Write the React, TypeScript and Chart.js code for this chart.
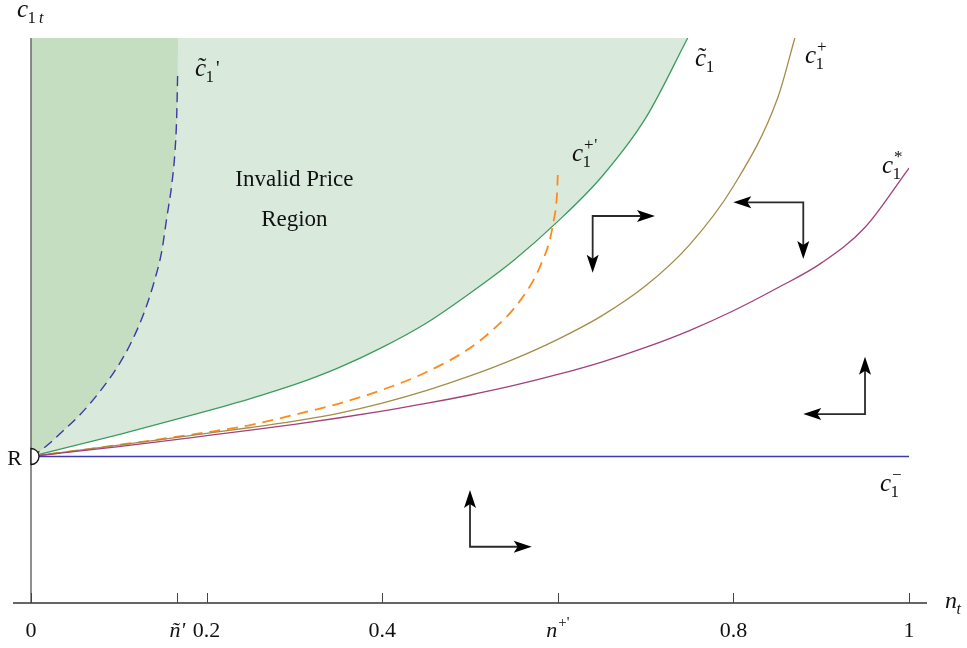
import React, { useEffect, useRef } from "react";
import { Chart, registerables } from "chart.js";

Chart.register(...registerables);

// ---------- data (n_t on x, c_1t on y; R = 1) ----------
const Y_MAX = 3.857;
const R_VALUE = 1.0;

// c~1 (boundary of invalid price region)
const cTildeX = [0, 0.1, 0.2, 0.25, 0.3, 0.35, 0.4, 0.45, 0.5, 0.55, 0.6, 0.65, 0.7, 0.748];
const cTildeY = [1.0, 1.15, 1.31, 1.395, 1.49, 1.605, 1.745, 1.91, 2.115, 2.34, 2.605, 2.91, 3.31, 3.857];

// c1+
const cPlusX = [0, 0.1, 0.2, 0.25, 0.3, 0.35, 0.4, 0.45, 0.5, 0.55, 0.6, 0.65, 0.7, 0.75, 0.8, 0.85, 0.87];
const cPlusY = [1.0, 1.078, 1.158, 1.198, 1.242, 1.295, 1.365, 1.45, 1.55, 1.665, 1.8, 1.96, 2.165, 2.445, 2.845, 3.44, 3.857];

// c1*
const cStarX = [0, 0.1, 0.2, 0.25, 0.3, 0.35, 0.4, 0.45, 0.5, 0.55, 0.6, 0.65, 0.7, 0.75, 0.8, 0.85, 0.9, 0.95, 1.0];
const cStarY = [1.0, 1.068, 1.142, 1.18, 1.22, 1.263, 1.31, 1.362, 1.42, 1.485, 1.56, 1.645, 1.745, 1.86, 1.995, 2.15, 2.32, 2.565, 2.969];

// c1+'  (dashed)
const cPlusPrimeX = [0, 0.1, 0.2, 0.25, 0.3, 0.35, 0.4, 0.45, 0.5, 0.525, 0.55, 0.57, 0.58, 0.59, 0.595, 0.599, 0.6];
const cPlusPrimeY = [1.0, 1.079, 1.165, 1.215, 1.285, 1.36, 1.455, 1.575, 1.74, 1.86, 2.01, 2.18, 2.3, 2.46, 2.6, 2.78, 2.922];

// c~1'  (dashed)
const cTildePrimeX = [0, 0.0103, 0.0216, 0.0364, 0.0558, 0.0786, 0.0976, 0.1128, 0.1279, 0.1393, 0.1489, 0.1546, 0.1603, 0.164, 0.1659, 0.1671];
const cTildePrimeY = [1.0, 1.038, 1.092, 1.174, 1.285, 1.445, 1.604, 1.763, 1.968, 2.173, 2.401, 2.628, 2.855, 3.083, 3.311, 3.629];
const cTildePrimeTop = { x: 0.1674, y: 3.857 };

// c1-
const cMinusX = [0, 1.0];
const cMinusY = [R_VALUE, R_VALUE];

// x-axis ticks
const xTickValues = [0, 0.1667, 0.2, 0.4, 0.6, 0.8, 1];
const xTickLabels = ["0", "ñ'", "0.2", "0.4", "", "0.8", "1"];
const nPlusPrimeTick = 0.6;

// phase arrows: corner point, horizontal arm, vertical arm (data units)
const arrowCornersX = [0.6397, 0.8796, 0.9499, 0.5];
const arrowCornersY = [2.642, 2.735, 1.29, 0.384];
const arrowArmsX = [0.071, -0.0797, -0.0703, 0.0703];
const arrowArmsY = [-0.387, -0.387, 0.391, 0.387];

const SERIF = "'Liberation Serif', 'Times New Roman', serif";

const pts = (xs: number[], ys: number[]) => xs.map((x, i) => ({ x, y: ys[i] }));

function drawMath(
  ctx: CanvasRenderingContext2D,
  x: number,
  y: number,
  base: string,
  o: { tilde?: boolean; sub?: string; sup?: string; prime?: boolean; supPrime?: boolean; subItalic?: boolean; size?: number }
) {
  const size = o.size || 25;
  ctx.textAlign = "left";
  ctx.textBaseline = "alphabetic";
  ctx.fillStyle = "#111";
  ctx.font = `italic ${size}px ${SERIF}`;
  ctx.fillText(base, x, y);
  const w = ctx.measureText(base).width;
  if (o.tilde) {
    ctx.font = `${size}px ${SERIF}`;
    const tw = ctx.measureText("˜").width;
    ctx.fillText("˜", x + w / 2 - tw / 2 + 1.5, y - 1);
  }
  let right = x + w;
  const ss = Math.round(size * 0.66);
  if (o.sub) {
    ctx.font = `${o.subItalic ? "italic " : ""}${ss}px ${SERIF}`;
    ctx.fillText(o.sub, x + w - 0.5, y + 6);
    right = Math.max(right, x + w - 0.5 + ctx.measureText(o.sub).width);
  }
  if (o.sup) {
    ctx.font = `${ss}px ${SERIF}`;
    ctx.fillText(o.sup, x + w + 1, y - 11);
    const sw = ctx.measureText(o.sup).width;
    if (o.supPrime) {
      ctx.fillText("'", x + w + 1 + sw + 0.5, y - 11);
    }
    right = Math.max(right, x + w + 1 + sw);
  }
  if (o.prime) {
    ctx.font = `${Math.round(size * 0.8)}px ${SERIF}`;
    ctx.fillText("'", right + 2, y - 1);
  }
}

function drawArrowHead(ctx: CanvasRenderingContext2D, tx: number, ty: number, dx: number, dy: number) {
  const len = 18;
  const half = 6;
  const bx = tx - dx * len;
  const by = ty - dy * len;
  const nx = -dy;
  const ny = dx;
  const notch = 4;
  ctx.beginPath();
  ctx.moveTo(tx, ty);
  ctx.lineTo(bx + nx * half, by + ny * half);
  ctx.lineTo(bx + dx * notch, by + dy * notch);
  ctx.lineTo(bx - nx * half, by - ny * half);
  ctx.closePath();
  ctx.fill();
}

const overlayPlugin = {
  id: "overlay",
  afterDatasetsDraw(chart: any) {
    const { ctx, chartArea } = chart;
    const xs = chart.scales.x;
    const ys = chart.scales.y;
    const px = (v: number) => xs.getPixelForValue(v);
    const py = (v: number) => ys.getPixelForValue(v);
    ctx.save();

    // axes
    const x0 = px(0);
    const y0 = py(0);
    ctx.lineWidth = 1.5;
    ctx.strokeStyle = "#6a6a6a";
    ctx.beginPath();
    ctx.moveTo(x0, chartArea.top);
    ctx.lineTo(x0, y0);
    ctx.stroke();
    ctx.strokeStyle = "#333";
    ctx.lineWidth = 1.3;
    ctx.beginPath();
    ctx.moveTo(chartArea.left - 18, y0);
    ctx.lineTo(chartArea.right + 18, y0);
    ctx.stroke();
    // tick marks (inward)
    ctx.strokeStyle = "#444";
    ctx.lineWidth = 1;
    xTickValues.forEach((v) => {
      const x = Math.round(px(v)) + 0.5;
      ctx.beginPath();
      ctx.moveTo(x, y0);
      ctx.lineTo(x, y0 - 10);
      ctx.stroke();
    });

    // n+' tick label (italic n with superscript +')
    {
      const cx = px(nPlusPrimeTick);
      ctx.textBaseline = "alphabetic";
      ctx.textAlign = "left";
      ctx.fillStyle = "#111";
      ctx.font = `italic 22px ${SERIF}`;
      const wn = ctx.measureText("n").width;
      ctx.font = `15px ${SERIF}`;
      const ws = ctx.measureText("+'").width;
      const start = cx - (wn + ws + 1) / 2;
      ctx.font = `italic 22px ${SERIF}`;
      ctx.fillText("n", start, y0 + 34);
      ctx.font = `15px ${SERIF}`;
      ctx.fillText("+'", start + wn + 1, y0 + 24);
    }

    // R point (half disc)
    const rx = px(0);
    const ry = py(R_VALUE);
    ctx.beginPath();
    ctx.arc(rx, ry, 8, -Math.PI / 2, Math.PI / 2);
    ctx.closePath();
    ctx.fillStyle = "#fff";
    ctx.fill();
    ctx.strokeStyle = "#111";
    ctx.lineWidth = 1.3;
    ctx.stroke();

    // arrows
    for (let i = 0; i < arrowCornersX.length; i++) {
      const cx = px(arrowCornersX[i]);
      const cy = py(arrowCornersY[i]);
      const hx = px(arrowCornersX[i] + arrowArmsX[i]);
      const vy = py(arrowCornersY[i] + arrowArmsY[i]);
      const sx = Math.sign(hx - cx);
      const sy = Math.sign(vy - cy);
      ctx.strokeStyle = "#2a2a2a";
      ctx.lineWidth = 1.8;
      ctx.beginPath();
      ctx.moveTo(hx - sx * 12, cy);
      ctx.lineTo(cx, cy);
      ctx.lineTo(cx, vy - sy * 12);
      ctx.stroke();
      ctx.fillStyle = "#000";
      drawArrowHead(ctx, hx, cy, sx, 0);
      drawArrowHead(ctx, cx, vy, 0, sy);
    }

    // region text
    ctx.fillStyle = "#111";
    ctx.font = `23px ${SERIF}`;
    ctx.textAlign = "center";
    ctx.textBaseline = "alphabetic";
    ctx.fillText("Invalid Price", px(0.3), py(2.846));
    ctx.fillText("Region", px(0.3), py(2.573));

    // R label
    ctx.font = `22px ${SERIF}`;
    ctx.textAlign = "right";
    ctx.fillText("R", rx - 9, ry + 8);

    // curve labels
    drawMath(ctx, px(0.1868), py(3.597), "c", { tilde: true, sub: "1", prime: true });
    drawMath(ctx, px(0.7563), py(3.666), "c", { tilde: true, sub: "1" });
    drawMath(ctx, px(0.8815), py(3.686), "c", { sub: "1", sup: "+" });
    drawMath(ctx, px(0.6162), py(3.017), "c", { sub: "1", sup: "+", supPrime: true });
    drawMath(ctx, px(0.9692), py(2.935), "c", { sub: "1", sup: "*" });
    drawMath(ctx, px(0.967), py(0.7645), "c", { sub: "1", sup: "−" });

    // axis titles
    drawMath(ctx, px(0) - 14, chartArea.top - 21, "c", { sub: "1" });
    ctx.font = `italic 16px ${SERIF}`;
    ctx.textAlign = "left";
    ctx.fillText("t", px(0) + 8, chartArea.top - 15);
    drawMath(ctx, chartArea.right + 36, y0 + 5, "n", { sub: "t", subItalic: true, size: 24 });

    ctx.restore();
  },
};

export default function App() {
  const ref = useRef<HTMLCanvasElement | null>(null);

  useEffect(() => {
    if (!ref.current) return;
    const chart = new Chart(ref.current, {
      type: "line",
      data: {
        datasets: [
          {
            label: "c~1",
            data: pts(cTildeX, cTildeY),
            borderColor: "#3f9a5e",
            borderWidth: 1.3,
            backgroundColor: "#d9eadd",
            fill: "end",
            pointRadius: 0,
            cubicInterpolationMode: "monotone",
            order: 3,
          },
          {
            label: "dark fill",
            data: [...pts(cTildePrimeX, cTildePrimeY), cTildePrimeTop],
            borderWidth: 0,
            borderColor: "rgba(0,0,0,0)",
            backgroundColor: "#c5ddc0",
            fill: "end",
            pointRadius: 0,
            cubicInterpolationMode: "monotone",
            order: 2,
          },
          {
            label: "c~1'",
            data: pts(cTildePrimeX, cTildePrimeY),
            borderColor: "#3b3ba3",
            borderWidth: 1.4,
            borderDash: [10, 6],
            fill: false,
            pointRadius: 0,
            cubicInterpolationMode: "monotone",
            order: 1,
          },
          {
            label: "c1-",
            data: pts(cMinusX, cMinusY),
            borderColor: "#3c3cb0",
            borderWidth: 1.3,
            fill: false,
            pointRadius: 0,
            order: 0,
          },
          {
            label: "c1*",
            data: pts(cStarX, cStarY),
            borderColor: "#a2417a",
            borderWidth: 1.3,
            fill: false,
            pointRadius: 0,
            cubicInterpolationMode: "monotone",
            order: 0,
          },
          {
            label: "c1+",
            data: pts(cPlusX, cPlusY),
            borderColor: "#a38d48",
            borderWidth: 1.3,
            fill: false,
            pointRadius: 0,
            cubicInterpolationMode: "monotone",
            order: 0,
          },
          {
            label: "c1+'",
            data: pts(cPlusPrimeX, cPlusPrimeY),
            borderColor: "#ff8a1c",
            borderWidth: 1.8,
            borderDash: [11, 7],
            fill: false,
            pointRadius: 0,
            cubicInterpolationMode: "monotone",
            order: 0,
          },
        ],
      },
      options: {
        responsive: false,
        animation: false,
        events: [],
        layout: { padding: { left: 31, right: 58, top: 38, bottom: 4.6 } },
        plugins: { legend: { display: false }, tooltip: { enabled: false } },
        scales: {
          x: {
            type: "linear",
            min: 0,
            max: 1,
            grid: { display: false, drawTicks: false },
            border: { display: false },
            afterBuildTicks: (s: any) => {
              s.ticks = xTickValues.map((v) => ({ value: v }));
            },
            afterFit: (s: any) => {
              s.height = 40.4;
            },
            ticks: {
              autoSkip: false,
              maxRotation: 0,
              minRotation: 0,
              padding: 15,
              color: "#111",
              font: (c: any) => ({
                family: SERIF,
                size: 22,
                style: c.index === 1 ? "italic" : "normal",
              }),
              callback: (v: any) => {
                const i = xTickValues.indexOf(Number(v));
                return i >= 0 ? xTickLabels[i] : "";
              },
            },
          },
          y: {
            type: "linear",
            min: 0,
            max: Y_MAX,
            display: false,
          },
        },
      },
      plugins: [overlayPlugin],
    });
    return () => chart.destroy();
  }, []);

  return (
    <div style={{ position: "fixed", left: 0, top: 0, width: 967, height: 648, background: "#fff" }}>
      <canvas ref={ref} width={967} height={648} style={{ display: "block" }} />
    </div>
  );
}
